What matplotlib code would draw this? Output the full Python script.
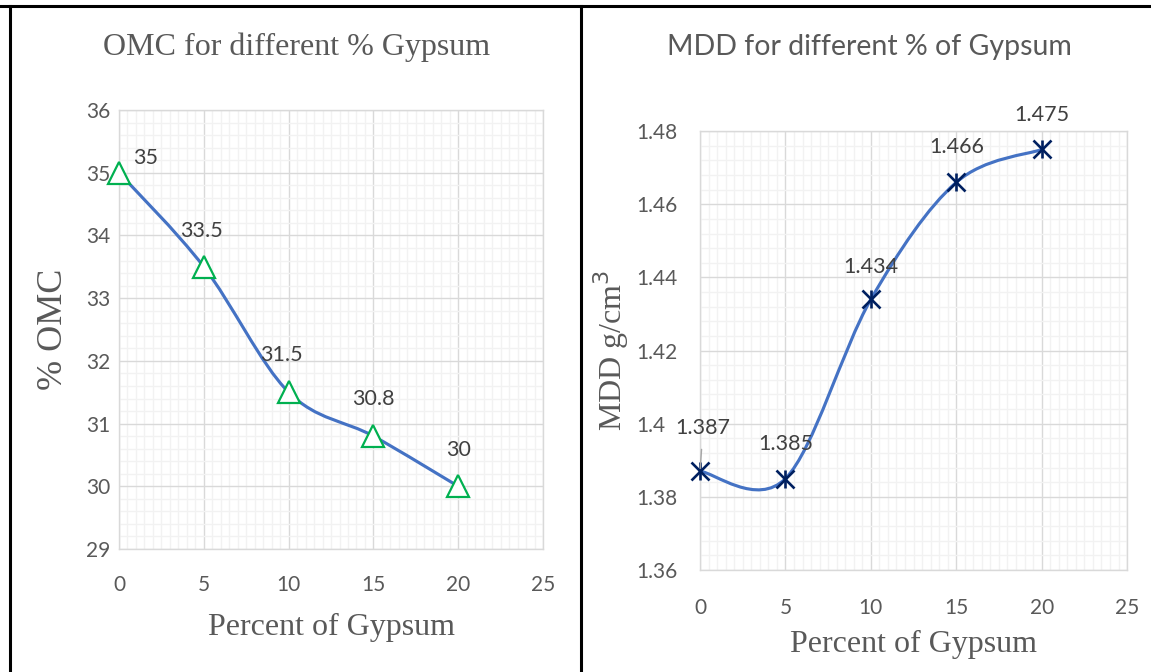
import matplotlib
matplotlib.use("Agg")
import matplotlib.pyplot as plt
from matplotlib.path import Path
from matplotlib.patches import PathPatch
from matplotlib.lines import Line2D
from matplotlib.ticker import MultipleLocator

# ── data ──────────────────────────────────────────────────────────────────────
gypsum_pct = [0, 5, 10, 15, 20]
omc_vals = [35, 33.5, 31.5, 30.8, 30]
mdd_vals = [1.387, 1.385, 1.434, 1.466, 1.475]
omc_labels = ["35", "33.5", "31.5", "30.8", "30"]
mdd_labels = ["1.387", "1.385", "1.434", "1.466", "1.475"]

# label offsets in pixels (dx, dy)
omc_offsets = [(27, 15), (-2, 36), (-7, 37), (0, 37), (0, 36)]
mdd_offsets = [(3, 43), (0, 35), (0, 32), (0, 35), (0, 34)]

SERIF = "Liberation Serif"
SANS = "Lato"
LINE_BLUE = "#4472C4"
GREY_TXT = "#595959"
LABEL_TXT = "#404040"


def smooth_path(xs, ys):
    """Excel-like smoothed line: Catmull-Rom converted to cubic Bezier."""
    pts = list(zip(xs, ys))
    n = len(pts)
    verts = [pts[0]]
    codes = [Path.MOVETO]
    for i in range(n - 1):
        p0 = pts[i - 1] if i > 0 else pts[i]
        p1 = pts[i]
        p2 = pts[i + 1]
        p3 = pts[i + 2] if i + 2 < n else pts[i + 1]
        c1 = (p1[0] + (p2[0] - p0[0]) / 6, p1[1] + (p2[1] - p0[1]) / 6)
        c2 = (p2[0] - (p3[0] - p1[0]) / 6, p2[1] - (p3[1] - p1[1]) / 6)
        verts += [c1, c2, p2]
        codes += [Path.CURVE4] * 3
    return Path(verts, codes)


def style_axes(ax, ylim, ymaj, ymin, xpad, ypad):
    ax.set_xlim(0, 25)
    ax.set_ylim(*ylim)
    ax.xaxis.set_major_locator(MultipleLocator(5))
    ax.xaxis.set_minor_locator(MultipleLocator(0.5))
    ax.yaxis.set_major_locator(MultipleLocator(ymaj))
    ax.yaxis.set_minor_locator(MultipleLocator(ymin))
    ax.grid(which="minor", color="#F2F2F2", linewidth=1.0, zorder=0)
    ax.grid(which="major", color="#D9D9D9", linewidth=1.0, zorder=0)
    ax.set_axisbelow(True)
    for sp in ax.spines.values():
        sp.set_color("#D9D9D9")
        sp.set_linewidth(1.0)
    ax.tick_params(which="both", length=0)
    ax.tick_params(axis="x", pad=xpad, labelsize=15, labelcolor=GREY_TXT)
    ax.tick_params(axis="y", pad=ypad, labelsize=15, labelcolor=GREY_TXT)
    for lab in ax.get_xticklabels() + ax.get_yticklabels():
        lab.set_fontfamily(SANS)


fig = plt.figure(figsize=(11.51, 6.72), dpi=100)
H, W = 672, 1151

# ── left: OMC ─────────────────────────────────────────────────────────────────
ax1 = fig.add_axes([0.1034, 0.183, 0.3684, 0.6533])
style_axes(ax1, (29, 36), 1, 0.2, xpad=19, ypad=6)
ax1.add_patch(PathPatch(smooth_path(gypsum_pct, omc_vals), facecolor="none",
                        edgecolor=LINE_BLUE, linewidth=2.25, zorder=3,
                        capstyle="round"))
ax1.plot(gypsum_pct, omc_vals, linestyle="none", marker="^", markersize=15.5,
         markerfacecolor="white", markeredgecolor="#00B050",
         markeredgewidth=1.6, zorder=4, clip_on=False)
for x, y, s, (dx, dy) in zip(gypsum_pct, omc_vals, omc_labels, omc_offsets):
    ax1.annotate(s, (x, y), xytext=(dx, dy), textcoords="offset pixels",
                 ha="center", va="center", fontsize=15.5, color=LABEL_TXT,
                 family=SANS, zorder=5)
fig.text(297 / W, 1 - 47 / H, "OMC for different % Gypsum", family=SERIF,
         fontsize=23, color=GREY_TXT, ha="center", va="center")
ax1.set_xlabel("Percent of Gypsum", family=SERIF, fontsize=23,
               color=GREY_TXT, labelpad=13)
ax1.set_ylabel("% OMC", family=SERIF, fontsize=26, color=GREY_TXT,
               labelpad=12)

# ── right: MDD ────────────────────────────────────────────────────────────────
ax2 = fig.add_axes([0.6082, 0.1518, 0.371, 0.653])
style_axes(ax2, (1.36, 1.48), 0.02, 0.004, xpad=20, ypad=46)
ax2.yaxis.set_major_formatter(plt.FuncFormatter(lambda v, p: f"{v:g}"))
for lab in ax2.get_yticklabels():
    lab.set_horizontalalignment("left")
ax2.add_patch(PathPatch(smooth_path(gypsum_pct, mdd_vals), facecolor="none",
                        edgecolor=LINE_BLUE, linewidth=2.25, zorder=3,
                        capstyle="round"))
for mk in ("x", "|"):
    ax2.plot(gypsum_pct, mdd_vals, linestyle="none", marker=mk,
             markersize=13.5, markeredgecolor="#002060",
             markeredgewidth=1.9, zorder=4, clip_on=False)
for i, (x, y, s, (dx, dy)) in enumerate(zip(gypsum_pct, mdd_vals,
                                               mdd_labels, mdd_offsets)):
    arrow = None
    if i == 0:
        arrow = dict(arrowstyle="-", color="#A6A6A6", linewidth=1.0,
                     shrinkA=6, shrinkB=2)
    ax2.annotate(s, (x, y), xytext=(dx, dy), textcoords="offset pixels",
                 ha="center", va="center", fontsize=15.5, color=LABEL_TXT,
                 family=SANS, zorder=5, arrowprops=arrow)
fig.text(869 / W, 1 - 47 / H, "MDD for different % of Gypsum", family=SANS,
         fontsize=20.5, color=GREY_TXT, ha="center", va="center")
ax2.set_xlabel("Percent of Gypsum", family=SERIF, fontsize=23,
               color=GREY_TXT, labelpad=9)
ax2.set_ylabel("MDD g/cm$^3$", family=SERIF, fontsize=23, color=GREY_TXT,
               labelpad=4)

# ── table borders ─────────────────────────────────────────────────────────────
fig.add_artist(Line2D([0, 1], [1 - 6 / H, 1 - 6 / H], color="black",
                      linewidth=2.2, transform=fig.transFigure))
fig.add_artist(Line2D([10 / W, 10 / W], [0, 1 - 6 / H], color="black",
                      linewidth=2.2, transform=fig.transFigure))
fig.add_artist(Line2D([581 / W, 581 / W], [0, 1 - 6 / H], color="black",
                      linewidth=2.2, transform=fig.transFigure))

fig.savefig("out.png", dpi=100)
